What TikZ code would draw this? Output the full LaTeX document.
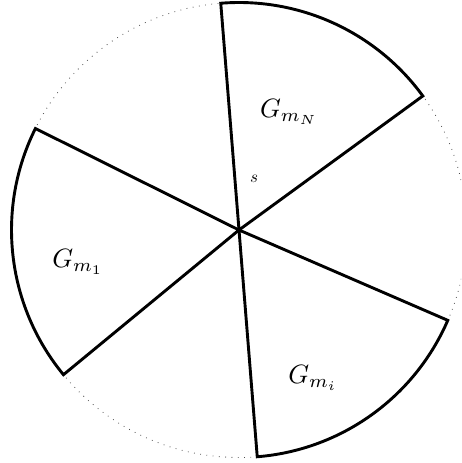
\documentclass[tikz,border=0pt]{standalone}
\usepackage{amsmath,amssymb}
\usetikzlibrary{calc}
\tikzset{
  sector/.style={line width=2.9pt,line join=miter,black},
  rim/.style={line width=0.8pt,black!70,dash pattern=on 0.8pt off 5.5pt},
  lab/.style={scale=2.65}
}

\begin{document}
\begin{tikzpicture}[x=1pt,y=1pt]
  \clip (0,0) rectangle (461,463);
  \coordinate (O) at (239,233);
  \def\rad{227.5}
  \draw[rim] (O) circle (\rad);
  % the three sectors
  \coordinate (nA) at ($(O)+(36.1:\rad)$);
  \coordinate (oA) at ($(O)+(153.5:\rad)$);
  \coordinate (iA) at ($(O)+(274.6:\rad)$);
  \draw[sector] (O) -- (nA) arc[start angle=36.1,end angle=94.6,radius=\rad] -- cycle;
  \draw[sector] (O) -- (oA) arc[start angle=153.5,end angle=219.5,radius=\rad] -- cycle;
  \draw[sector] (O) -- (iA) arc[start angle=274.6,end angle=336.6,radius=\rad] -- cycle;
  \node[lab] (gN) at (289,351) {$G_{m_N}$};
  \node[lab] (g1) at (78,201) {$G_{m_1}$};
  \node[lab] (gi) at (313,85) {$G_{m_i}$};
  \node[scale=1.7] (s) at (254,284) {$s$};
\end{tikzpicture}
\end{document}
